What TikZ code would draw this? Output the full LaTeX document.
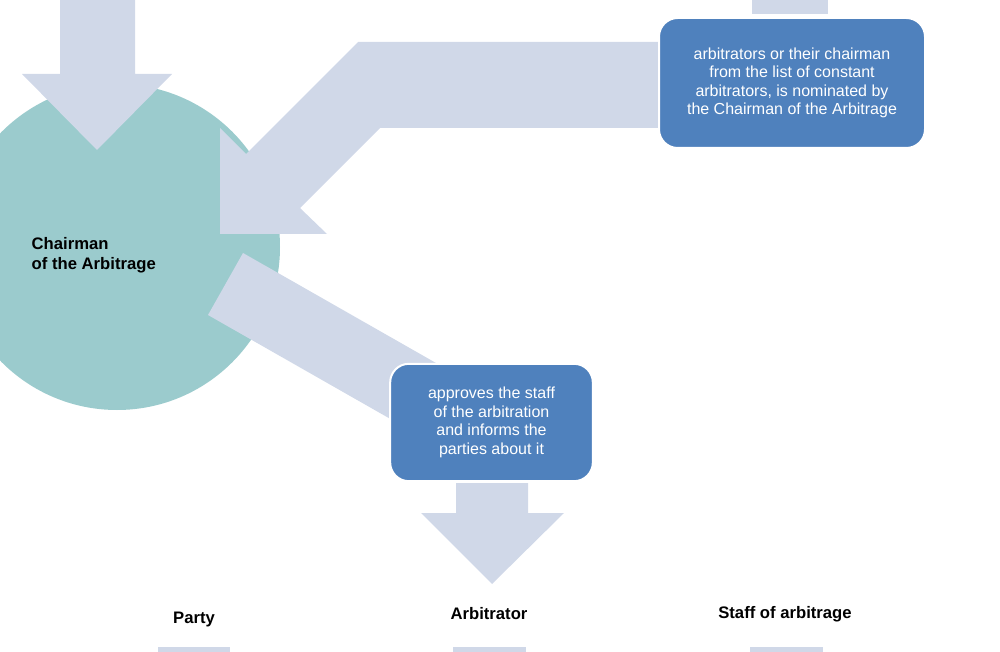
\documentclass[tikz,border=0pt]{standalone}
\usepackage{fontspec}
\setmainfont{Liberation Sans}
\usepackage{tikz}

\definecolor{arrowgray}{HTML}{D0D8E8}
\definecolor{circleteal}{HTML}{9BCBCD}
\definecolor{boxblue}{HTML}{4F81BD}

\tikzset{
  blockarrow/.style={fill=arrowgray, draw=none},
  bluebox/.style={fill=boxblue, draw=white, line width=1.5pt, rounded corners=14pt,
    text=white, align=center, inner sep=0pt, font=\fontsize{12}{13.9}\selectfont},
  boldlabel/.style={font=\fontsize{12.5}{15}\selectfont\bfseries}
}

\begin{document}
\begin{tikzpicture}[x=0.75pt,y=-0.75pt]
        \useasboundingbox (0,0) rectangle (1000,652);
        \clip (0,0) rectangle (1000,652);
        % Chairman of the Arbitrage
        \node[circle, fill=circleteal, inner sep=0pt, minimum size=244.5pt] (chair) at (117,247) {};
        \node[boldlabel, align=left, anchor=west] (chairtext) at (27,255) {Chairman\\of the Arbitrage};
        % arrow from above
        \fill[blockarrow] (60,-2) -- (135,-2) -- (135,74) -- (172,74) -- (97,150) -- (22,74) -- (60,74) -- cycle;
        % bent arrow back to the circle
        \fill[blockarrow] (662,42) -- (358,42) -- (246,154) -- (220,128) -- (220,234)
              -- (327,234) -- (300,208) -- (380,128) -- (662,128) -- cycle;
        % band from the circle down to the box
        \fill[blockarrow] (243,253) -- (443,367) -- (408,429) -- (208,315) -- cycle;
        % top bar
        \fill[blockarrow] (752,-2) rectangle (828,14);
        % boxes
        \node[bluebox, minimum width=199.5pt, minimum height=97.5pt] (nominate) at (792,83) {};
        \node[white, align=center, font=\fontsize{12}{13.9}\selectfont] (nominatetext) at (792,83)
              {arbitrators or their chairman\\from the list of constant\\arbitrators, is nominated by\\the Chairman of the Arbitrage};
        \node[bluebox, minimum width=152pt, minimum height=88pt] (approve) at (491.5,422.5)
              {approves the staff\\of the arbitration\\and informs the\\parties about it};
        % arrow down from the box
        \fill[blockarrow] (456,483) -- (528,483) -- (528,513) -- (564,513) -- (492,584) -- (421,513) -- (456,513) -- cycle;
        % bottom labels
        \node[boldlabel] (party) at (194,619) {Party};
        \node[boldlabel] (arbitrator) at (489,614) {Arbitrator};
        \node[boldlabel] (staff) at (785,614) {Staff of arbitrage};
        \fill[blockarrow] (158,647) rectangle (230,654);
        \fill[blockarrow] (453,647) rectangle (526,654);
        \fill[blockarrow] (750,647) rectangle (823,654);
\end{tikzpicture}
\end{document}
